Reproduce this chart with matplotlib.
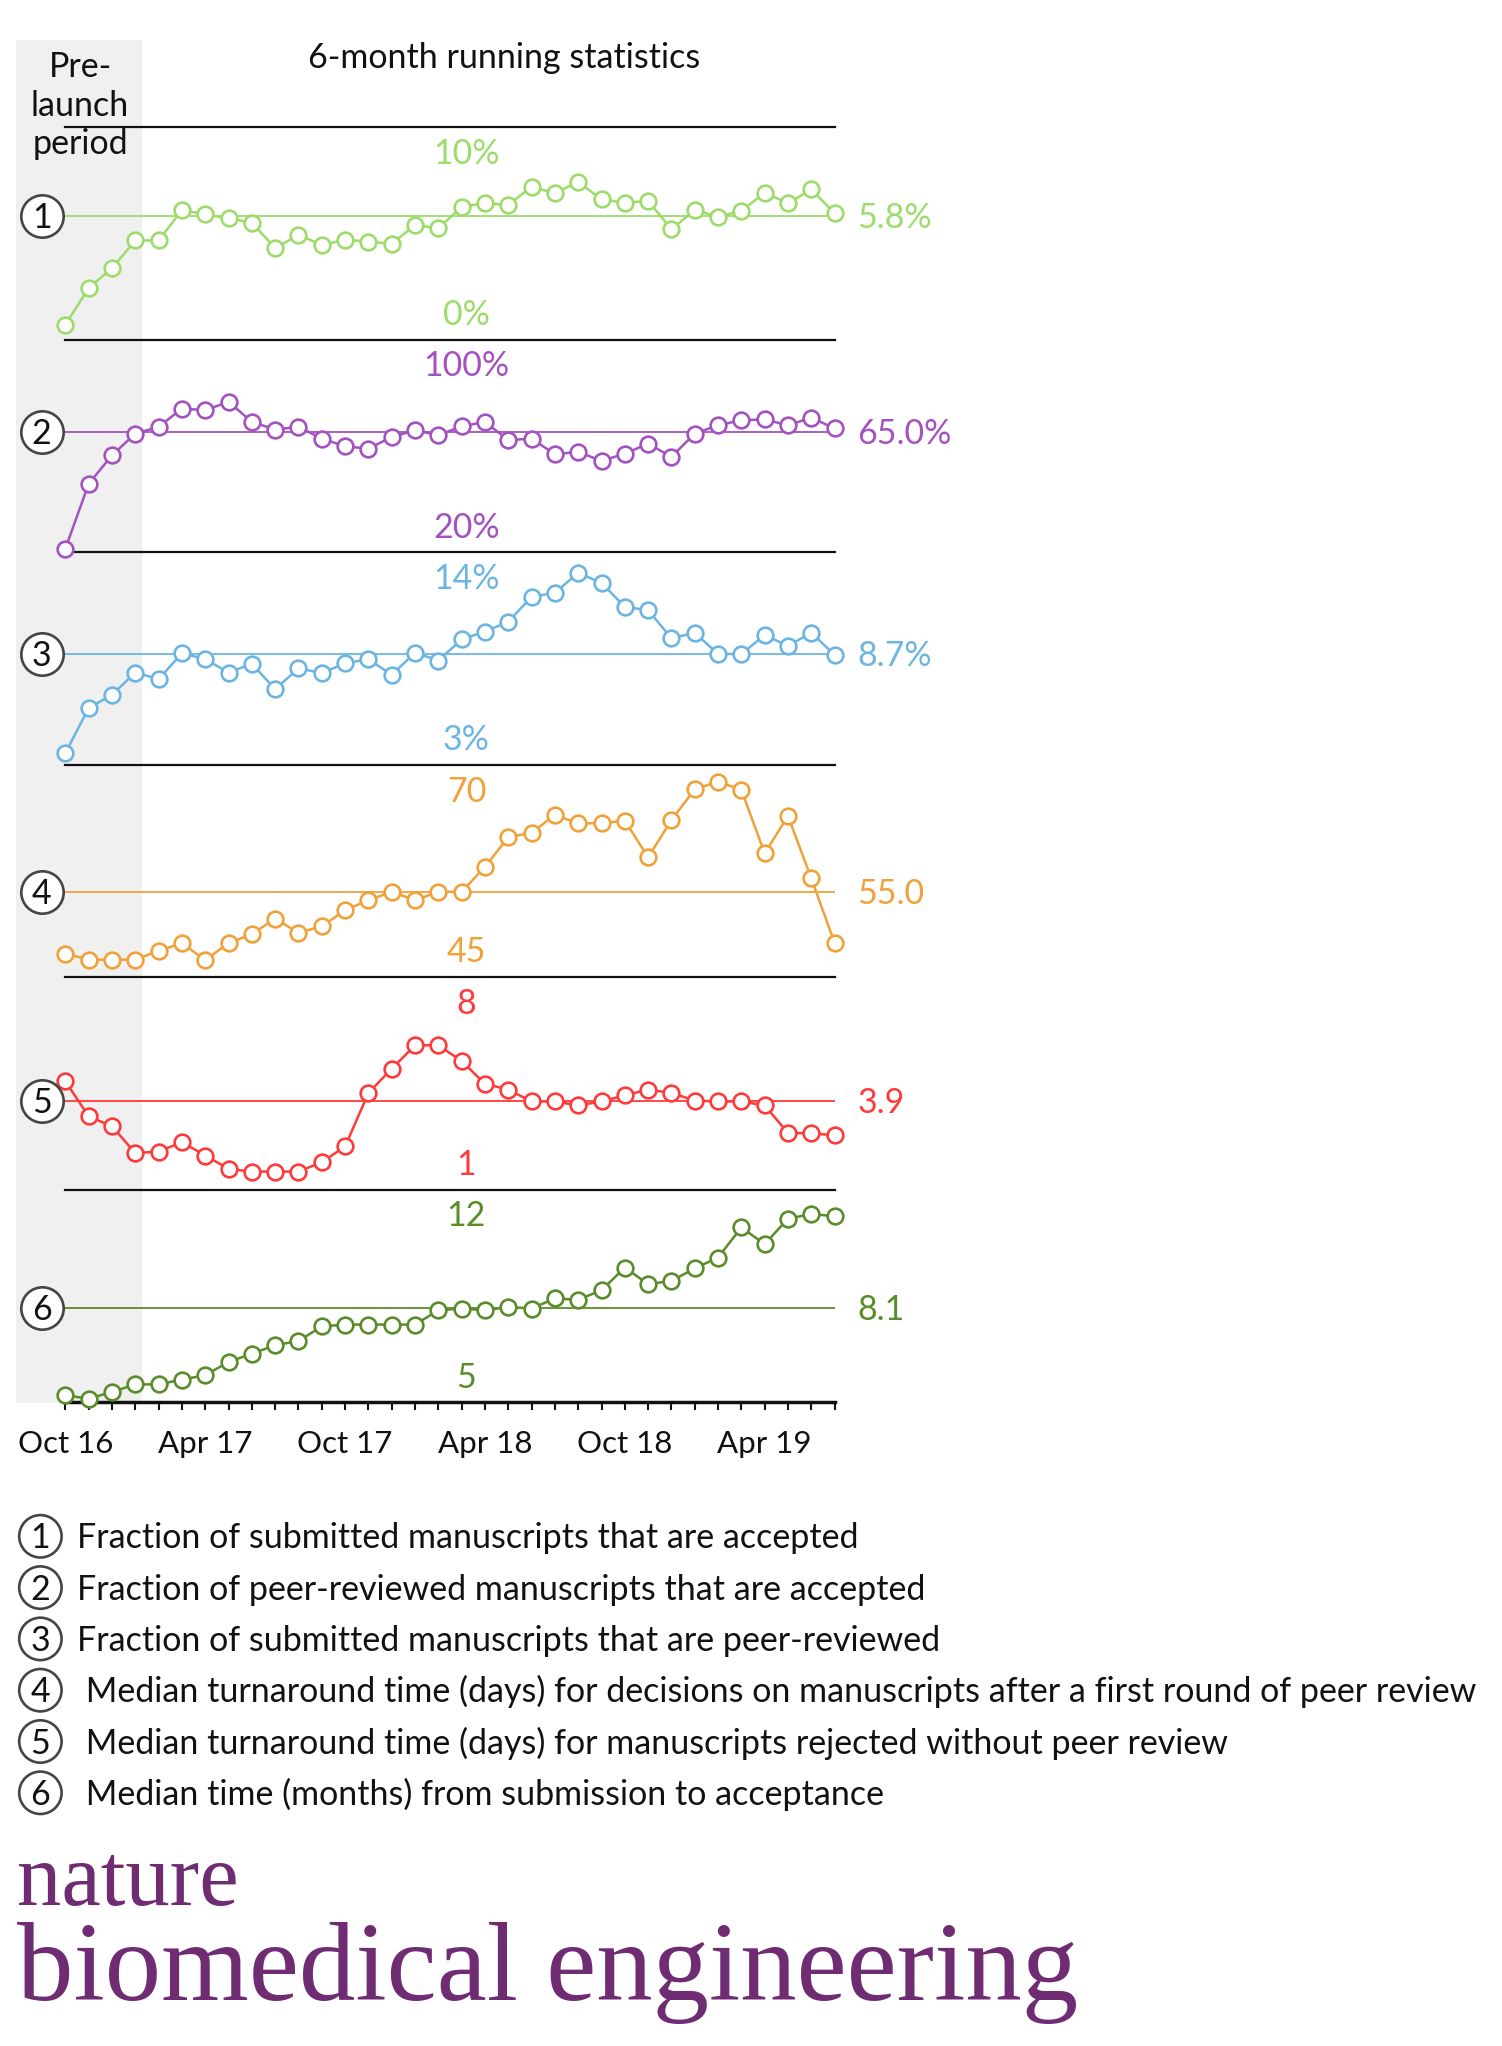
import matplotlib
matplotlib.use('Agg')
import matplotlib.pyplot as plt
import matplotlib.transforms as mtransforms
from matplotlib.patches import Rectangle, Circle

# ---------------- data ----------------
months = ['Oct 16', 'Nov 16', 'Dec 16',
          'Jan 17', 'Feb 17', 'Mar 17', 'Apr 17', 'May 17', 'Jun 17',
          'Jul 17', 'Aug 17', 'Sep 17', 'Oct 17', 'Nov 17', 'Dec 17',
          'Jan 18', 'Feb 18', 'Mar 18', 'Apr 18', 'May 18', 'Jun 18',
          'Jul 18', 'Aug 18', 'Sep 18', 'Oct 18', 'Nov 18', 'Dec 18',
          'Jan 19', 'Feb 19', 'Mar 19', 'Apr 19', 'May 19', 'Jun 19', 'Jul 19']
tick_label_months = ['Oct 16', 'Apr 17', 'Oct 17', 'Apr 18', 'Oct 18', 'Apr 19']

submitted_accepted = [0.70, 2.42, 3.36, 4.66, 4.66, 6.09, 5.89, 5.70, 5.50, 4.30,
                      4.92, 4.45, 4.69, 4.61, 4.50, 5.39, 5.23, 6.25, 6.41, 6.33,
                      7.19, 6.88, 7.42, 6.59, 6.44, 6.52, 5.19, 6.09, 5.78, 6.05,
                      6.91, 6.41, 7.06, 5.94]
reviewed_accepted = [21.3, 45.7, 56.4, 64.6, 67.1, 74.0, 73.4, 76.5, 69.0, 66.1,
                     67.1, 62.7, 59.8, 58.9, 63.3, 65.8, 64.0, 67.3, 69.0, 62.1,
                     62.7, 56.8, 57.7, 54.3, 57.0, 60.8, 55.8, 64.6, 67.7, 69.6,
                     69.9, 67.7, 70.6, 66.5]
submitted_reviewed = [3.60, 5.92, 6.61, 7.76, 7.42, 8.76, 8.45, 7.76, 8.21, 6.90,
                      7.98, 7.73, 8.24, 8.45, 7.64, 8.79, 8.38, 9.48, 9.88, 10.39,
                      11.68, 11.89, 12.92, 12.40, 11.16, 10.99, 9.53, 9.82, 8.72, 8.72,
                      9.70, 9.14, 9.82, 8.67]
turnaround_review = [47.75, 47.04, 47.04, 47.04, 48.07, 49.0, 46.97, 49.0, 50.03, 51.88,
                     50.19, 50.97, 52.86, 54.04, 55.02, 54.04, 55.02, 55.02, 57.97, 61.43,
                     61.98, 64.06, 63.08, 63.08, 63.40, 59.07, 63.47, 67.09, 67.99, 67.01,
                     59.54, 63.95, 56.60, 49.0]
turnaround_reject = [4.56, 3.41, 3.08, 2.20, 2.25, 2.56, 2.12, 1.68, 1.59, 1.59,
                     1.59, 1.90, 2.42, 4.18, 4.98, 5.75, 5.75, 5.23, 4.48, 4.29,
                     3.90, 3.90, 3.77, 3.90, 4.10, 4.29, 4.18, 3.93, 3.90, 3.90,
                     3.77, 2.86, 2.86, 2.78]
time_to_accept = [5.22, 5.11, 5.33, 5.58, 5.58, 5.74, 5.88, 6.32, 6.59, 6.87,
                  7.01, 7.49, 7.55, 7.55, 7.55, 7.55, 8.02, 8.08, 8.02, 8.13,
                  8.08, 8.41, 8.37, 8.68, 9.43, 8.88, 8.99, 9.40, 9.76, 10.75,
                  10.20, 11.04, 11.19, 11.12]

series = [submitted_accepted, reviewed_accepted, submitted_reviewed,
          turnaround_review, turnaround_reject, time_to_accept]
range_low = [0, 20, 3, 45, 1, 5]
range_high = [10, 100, 14, 70, 8, 12]
range_suffix = ['%', '%', '%', '', '', '']
ref_values = [5.8, 65.0, 8.7, 55.0, 3.9, 8.1]
ref_labels = ['5.8%', '65.0%', '8.7%', '55.0', '3.9', '8.1']
panel_numbers = ['1', '2', '3', '4', '5', '6']
colors = ['#9ddc6b', '#a452bf', '#6cb5e2', '#f0a13a', '#ff3a3a', '#5b8c2c']
legend_texts = ['Fraction of submitted manuscripts that are accepted',
                'Fraction of peer-reviewed manuscripts that are accepted',
                'Fraction of submitted manuscripts that are peer-reviewed',
                ' Median turnaround time (days) for decisions on manuscripts after a first round of peer review',
                ' Median turnaround time (days) for manuscripts rejected without peer review',
                ' Median time (months) from submission to acceptance']
prelaunch_end = 3.3   # in month-index units

# ---------------- layout ----------------
W, H, DPI = 1502, 2046, 100
plt.rcParams['font.family'] = ['Lato', 'DejaVu Sans']
FS = 24.5
TFS = 22.5
X0, X1 = 65.4, 834.6
TOP0, PH = 127.0, 212.5
CIRC_X = 41.7
INK = '#111111'
CIRC_EC = '#454545'
PURPLE = '#702c73'

fig = plt.figure(figsize=(W / DPI, H / DPI), dpi=DPI)
bg = fig.add_axes([0, 0, 1, 1], zorder=0)
bg.set_xlim(0, W)
bg.set_ylim(H, 0)
bg.axis('off')

step = (X1 - X0) / (len(months) - 1)
band_right = X0 + prelaunch_end * step
bg.add_patch(Rectangle((16, 40), band_right - 16, 1403 - 40, fc='#f0f0f0', ec='none', zorder=0))

bg.text(504, 68, '6-month running statistics', ha='center', va='baseline', fontsize=FS, color=INK)
for txt, yb in zip(['Pre-', 'launch', 'period'], [77, 116, 154]):
    bg.text(80, yb, txt, ha='center', va='baseline', fontsize=FS, color=INK)

x = list(range(len(months)))
px = 1.0 / DPI
for i in range(6):
    top = TOP0 + i * PH
    bottom = top + PH
    ax = fig.add_axes([X0 / W, 1 - bottom / H, (X1 - X0) / W, PH / H], zorder=2)
    ax.patch.set_visible(False)
    c = colors[i]
    ax.axhline(ref_values[i], color=c, lw=1.3, zorder=1)
    ax.plot(x, series[i], color=c, lw=1.8, marker='o', ms=11.3, mfc='white',
            mec=c, mew=1.9, clip_on=False, zorder=3)
    ax.set_xlim(0, len(months) - 1)
    ax.set_ylim(range_low[i], range_high[i])

    # circled panel number
    off = ax.transData + mtransforms.ScaledTranslation(-(X0 - CIRC_X) * px, 0, fig.dpi_scale_trans)
    ax.plot([0], [ref_values[i]], marker='o', ms=30.5, mfc='white', mec=CIRC_EC, mew=1.9,
            transform=off, clip_on=False, zorder=4)
    off2 = ax.transData + mtransforms.ScaledTranslation(-(X0 - CIRC_X) * px, -12 * px, fig.dpi_scale_trans)
    ax.text(0, ref_values[i], panel_numbers[i], transform=off2, ha='center', va='baseline',
            fontsize=FS, color=INK, zorder=5, clip_on=False)

    # range labels
    ax.annotate(f'{range_high[i]}{range_suffix[i]}', xy=(17.2, 1), xycoords=('data', 'axes fraction'),
                xytext=(0, -37), textcoords='offset pixels', ha='center', va='baseline',
                fontsize=FS, color=c)
    ax.annotate(f'{range_low[i]}{range_suffix[i]}', xy=(17.2, 0), xycoords=('data', 'axes fraction'),
                xytext=(0, 14.5), textcoords='offset pixels', ha='center', va='baseline',
                fontsize=FS, color=c)
    # reference value label
    ax.annotate(ref_labels[i], xy=(len(months) - 1, ref_values[i]), xycoords='data',
                xytext=(23, -12), textcoords='offset pixels', ha='left', va='baseline',
                fontsize=FS, color=c)

    for s in ['left', 'right']:
        ax.spines[s].set_visible(False)
    ax.spines['top'].set_visible(i == 0)
    ax.spines['top'].set_linewidth(1.6)
    ax.spines['top'].set_color(INK)
    ax.spines['bottom'].set_color(INK)
    ax.set_yticks([])
    if i < 5:
        ax.spines['bottom'].set_linewidth(1.6)
        ax.set_xticks([])
    else:
        ax.spines['bottom'].set_linewidth(2.5)
        ax.set_xticks(x)
        ax.set_xticklabels([m if m in tick_label_months else '' for m in months],
                           fontsize=TFS, color=INK)
        ax.tick_params(axis='x', length=5.8, width=1.5, pad=31, color=INK, direction='out')
        for t in ax.get_xticklabels():
            t.set_va('baseline')

# legend
for k, (num, txt) in enumerate(zip(panel_numbers, legend_texts)):
    yb = 1548.3 + k * 51.3
    bg.add_patch(Circle((40.4, yb - 12), 21.2, fc='white', ec=CIRC_EC, lw=1.9, zorder=2))
    bg.text(40.4, yb, num, ha='center', va='baseline', fontsize=FS, color=INK, zorder=3)
    bg.text(77, yb, txt, ha='left', va='baseline', fontsize=FS, color=INK)

# logo
t_nat = bg.text(17, 1905, 'nature', ha='left', va='baseline', fontsize=50,
                family=['Liberation Serif', 'DejaVu Serif'], color=PURPLE)
t_bme = bg.text(17, 2000, 'biomedical engineering', ha='left', va='baseline', fontsize=80,
                family=['Liberation Serif', 'DejaVu Serif'], color=PURPLE)
fig.canvas.draw()
r = fig.canvas.get_renderer()
w1 = t_nat.get_window_extent(r).width
t_nat.set_fontsize(50 * 222 / w1)
w2 = t_bme.get_window_extent(r).width
t_bme.set_fontsize(80 * 1062 / w2)

fig.savefig('out.png', dpi=DPI, facecolor='white')
